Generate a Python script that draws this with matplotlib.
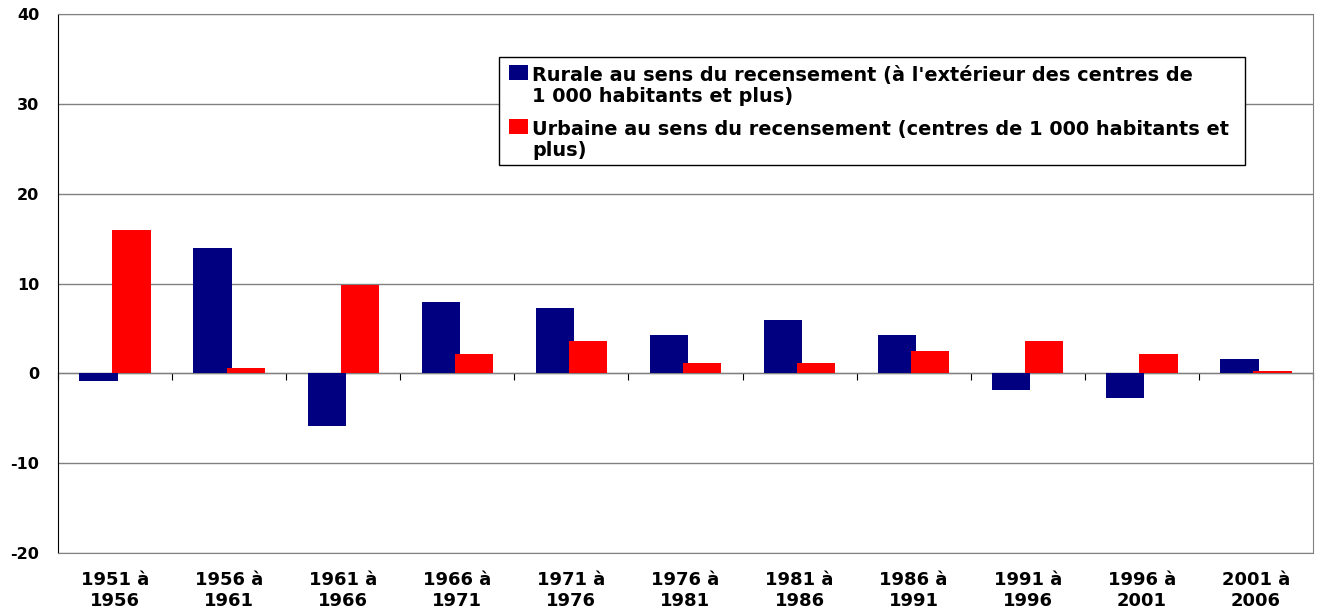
import numpy as np
import matplotlib.pyplot as plt
from matplotlib.patches import Rectangle

periodes = ["1951 à\n1956", "1956 à\n1961", "1961 à\n1966", "1966 à\n1971", "1971 à\n1976",
            "1976 à\n1981", "1981 à\n1986", "1986 à\n1991", "1991 à\n1996", "1996 à\n2001",
            "2001 à\n2006"]
rurale = [-0.9, 14.0, -5.9, 7.9, 7.3, 4.3, 5.9, 4.3, -1.8, -2.7, 1.6]
urbaine = [15.9, 0.6, 9.8, 2.2, 3.6, 1.2, 1.2, 2.5, 3.6, 2.1, 0.3]

lab_rurale = ["Rurale au sens du recensement (à l'extérieur des centres de",
              "1 000 habitants et plus)"]
lab_urbaine = ["Urbaine au sens du recensement (centres de 1 000 habitants et",
               "plus)"]

plt.rcParams['font.family'] = ['DejaVu Sans']
plt.rcParams['axes.unicode_minus'] = False

W, H = 1325, 612
fig = plt.figure(figsize=(W / 100, H / 100), dpi=100)
ax = fig.add_axes([58 / W, 1 - 553 / H, (1313 - 58) / W, (553 - 14) / H])

x = np.arange(len(periodes))
w = 0.335
off = 0.145
ax.bar(x - off, rurale, w, color='#000080', zorder=3)
ax.bar(x + off, urbaine, w, color='#ff0000', zorder=3)

ax.set_xlim(-0.5, len(periodes) - 0.5)
ax.set_ylim(-20, 40)
ax.set_yticks(range(-20, 41, 10))
ax.grid(axis='y', color='#808080', linewidth=1, zorder=0)
ax.tick_params(axis='y', length=0, pad=13.5, labelsize=11.5)
for t in ax.get_yticklabels():
    t.set_fontweight('bold')

ax.set_xticks(x)
ax.set_xticklabels(periodes, fontsize=13, fontweight='bold', linespacing=1.2)
ax.tick_params(axis='x', length=0, pad=13)

for s in ['top', 'right', 'bottom']:
    ax.spines[s].set_color('#808080')
ax.spines['left'].set_color('black')

# axe des catégories à y = 0
sec = ax.secondary_xaxis(20 / 60)
sec.set_xticks(np.arange(-0.5, len(periodes), 1.0))
sec.set_xticklabels([])
sec.tick_params(axis='x', direction='out', length=5, color='black')
sec.spines['bottom'].set_color('black')

# légende dessinée à la main (repère en pixels de la figure)
def fx(px):
    return px / W

def fy(py):
    return 1 - py / H

fig.patches.append(Rectangle((fx(499), fy(165)), fx(1245) - fx(499), fy(57) - fy(165),
                             transform=fig.transFigure, facecolor='white',
                             edgecolor='black', linewidth=1, zorder=5))
leg_items = [(lab_rurale, '#000080', 81), (lab_urbaine, '#ff0000', 135)]
for lines, col, base in leg_items:
    fig.patches.append(Rectangle((fx(509), fy(base - 1)), fx(528) - fx(509), fy(base - 16) - fy(base - 1),
                                 transform=fig.transFigure, facecolor=col,
                                 edgecolor='none', zorder=6))
    for i, line in enumerate(lines):
        fig.text(fx(532), fy(base + 20.5 * i), line, fontweight='bold',
                 fontsize=13.9, va='baseline', ha='left', zorder=7)

fig.savefig('out.png', dpi=100)
